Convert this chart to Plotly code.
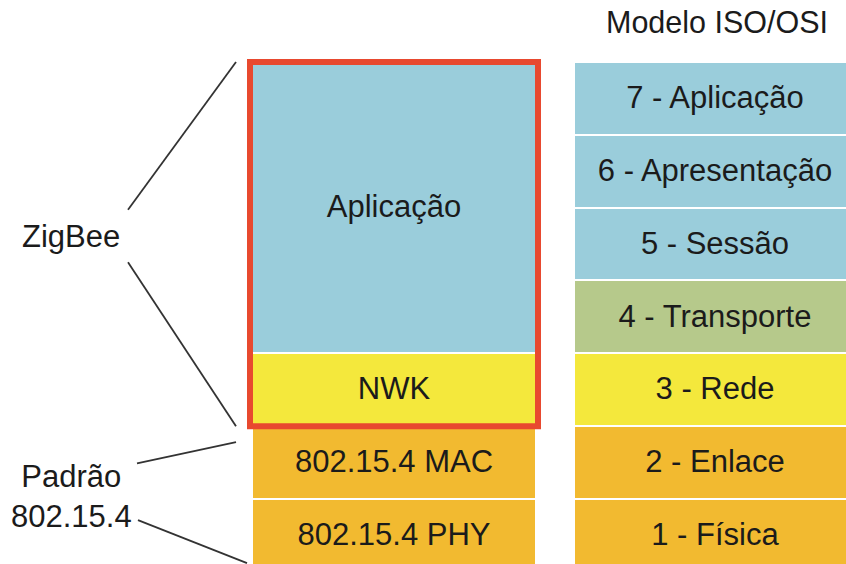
import plotly.graph_objects as go

# ---------------- data ----------------
osi_labels = ["7 - Aplicação", "6 - Apresentação", "5 - Sessão", "4 - Transporte",
              "3 - Rede", "2 - Enlace", "1 - Física"]
osi_top = [7, 6, 5, 4, 3, 2, 1]
osi_bottom = [6, 5, 4, 3, 2, 1, 0]

zig_labels = ["Aplicação", "NWK", "802.15.4 MAC", "802.15.4 PHY"]
zig_top = [7, 3, 2, 1]
zig_bottom = [3, 2, 1, 0]

osi_title = "Modelo ISO/OSI"
group_labels = ["ZigBee", "Padrão<br>802.15.4"]
# bracket lines: layer levels each group label points to
zig_span = [7, 2]          # top / bottom of the ZigBee (red) block
pad_span = [1.78, 0.12]    # top / bottom targets of the 802.15.4 bracket

# ---------------- styles ----------------
BLUE = "#9ACDDB"
GREEN = "#B6C98B"
YELLOW = "#F4E83C"
ORANGE = "#F2BA30"
RED = "#E8492F"
TXT = "#1b1b1b"
osi_colors = [BLUE, BLUE, BLUE, GREEN, YELLOW, ORANGE, ORANGE]
zig_colors = [BLUE, YELLOW, ORANGE, ORANGE]

W, H = 846, 564
PX = 72.83                       # pixels per layer
Y_MIN, Y_MAX = 0.107, 7.851
X_ZIG, W_ZIG = 394, 284
X_OSI, W_OSI = 715, 282
X_LBL = 71
X_LINE0, X_LINE1 = 128, 236
FONT = "Liberation Sans, Arial, sans-serif"
FS = 31
DY = -2 / PX                     # small downward nudge for box labels

fig = go.Figure()

# ZigBee stack
fig.add_trace(go.Bar(
    x=[X_ZIG] * len(zig_labels), width=[W_ZIG] * len(zig_labels),
    base=zig_bottom, y=[t - b for t, b in zip(zig_top, zig_bottom)],
    marker=dict(color=zig_colors, line=dict(color="white", width=2)),
    hoverinfo="skip", showlegend=False))

# OSI stack
fig.add_trace(go.Bar(
    x=[X_OSI] * len(osi_labels), width=[W_OSI] * len(osi_labels),
    base=osi_bottom, y=[t - b for t, b in zip(osi_top, osi_bottom)],
    marker=dict(color=osi_colors, line=dict(color="white", width=2)),
    hoverinfo="skip", showlegend=False))

# labels inside boxes
fig.add_trace(go.Scatter(
    x=[X_ZIG] * len(zig_labels),
    y=[(t + b) / 2 + DY for t, b in zip(zig_top, zig_bottom)],
    text=zig_labels, mode="text",
    textfont=dict(family=FONT, size=FS, color=TXT),
    hoverinfo="skip", showlegend=False))
fig.add_trace(go.Scatter(
    x=[X_OSI] * len(osi_labels),
    y=[(t + b) / 2 + DY for t, b in zip(osi_top, osi_bottom)],
    text=osi_labels, mode="text",
    textfont=dict(family=FONT, size=FS, color=TXT),
    hoverinfo="skip", showlegend=False))

# red outline around ZigBee block
fig.add_shape(type="rect", xref="x", yref="y",
              x0=X_ZIG - W_ZIG / 2 - 2, x1=X_ZIG + W_ZIG / 2 + 2,
              y0=zig_span[1], y1=zig_span[0],
              line=dict(color=RED, width=6), fillcolor="rgba(0,0,0,0)")

# group labels
zig_mid = 4.61
pad_mid = 1.03
fig.add_annotation(x=X_LBL, y=zig_mid, text=group_labels[0], showarrow=False,
                   font=dict(family=FONT, size=FS, color=TXT))
fig.add_annotation(x=X_LBL, y=pad_mid, text=group_labels[1], showarrow=False,
                   font=dict(family=FONT, size=FS, color=TXT))

# bracket lines
line_style = dict(color="#333333", width=1.8)
for (ys, ye) in [(zig_mid + 0.36, zig_span[0]), (zig_mid - 0.36, zig_span[1])]:
    fig.add_trace(go.Scatter(x=[X_LINE0, X_LINE1], y=[ys, ye], mode="lines",
                             line=line_style, hoverinfo="skip", showlegend=False))
fig.add_trace(go.Scatter(x=[137, X_LINE1], y=[1.49, pad_span[0]], mode="lines",
                         line=line_style, hoverinfo="skip", showlegend=False))
fig.add_trace(go.Scatter(x=[138, 247], y=[0.71, pad_span[1]], mode="lines",
                         line=line_style, hoverinfo="skip", showlegend=False))

# title
fig.add_annotation(x=X_OSI + 2, y=Y_MAX - 22 / PX, text=osi_title, showarrow=False,
                   font=dict(family=FONT, size=FS - 0.5, color=TXT))

fig.update_layout(
    width=W, height=H, margin=dict(l=0, r=0, t=0, b=0),
    paper_bgcolor="white", plot_bgcolor="white", barmode="overlay", bargap=0,
    xaxis=dict(range=[0, W], visible=False, fixedrange=True),
    yaxis=dict(range=[Y_MIN, Y_MAX], visible=False, fixedrange=True),
)
fig.write_html("out.html", config={"displayModeBar": False},
               post_script="document.body.style.margin='0';document.body.style.overflow='hidden';")
